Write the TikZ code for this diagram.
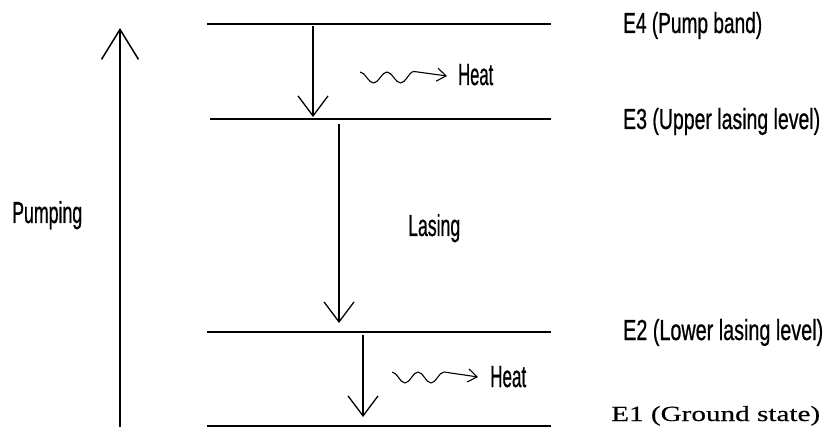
\documentclass[tikz,border=0pt]{standalone}
\usepackage{graphicx}
\usepackage{fontspec}
\setmainfont{Liberation Sans}
\newfontfamily\lblsans[FakeBold=0.9]{Liberation Sans}
\newfontfamily\lblserif[FakeBold=0.4]{Liberation Serif}
\usetikzlibrary{arrows.meta}
\newcommand\fitlbl[3]{\resizebox{#1}{#2}{\lblsans #3}}
\begin{document}
\begin{tikzpicture}[x=1pt,y=-1pt,
  levelline/.style={line width=1.7pt},
  decayarrow/.style={line width=1.3pt,-{Straight Barb[length=20pt,width=30pt,line width=1.3pt]}},
  pumparrow/.style={line width=1.5pt,-{Straight Barb[length=30pt,width=37pt,line width=1.5pt]}},
  heatwave/.style={line width=1.1pt,-{Straight Barb[length=9pt,width=13pt,line width=1.1pt]}},
  lbl/.style={anchor=base west,inner sep=0pt}]
\useasboundingbox[fill=white] (0,0) rectangle (826,435);
% level lines
\coordinate (e4a) at (207,24);  \coordinate (e4b) at (551,24);
\coordinate (e3a) at (210,119); \coordinate (e3b) at (551,119);
\coordinate (e2a) at (207,332); \coordinate (e2b) at (551,332);
\coordinate (e1a) at (207,426); \coordinate (e1b) at (551,426);
\draw[levelline] (e4a) -- (e4b);
\draw[levelline] (e3a) -- (e3b);
\draw[levelline] (e2a) -- (e2b);
\draw[levelline] (e1a) -- (e1b);
% pumping arrow
\coordinate (pb) at (120,427); \coordinate (pt) at (120,28);
\draw[pumparrow] (pb) -- (pt);
% decay arrows
\coordinate (d1s) at (313,26);  \coordinate (d1e) at (313,117);
\coordinate (d2s) at (339,124); \coordinate (d2e) at (339,323);
\coordinate (d3s) at (363,335); \coordinate (d3e) at (363,417);
\draw[decayarrow] (d1s) -- (d1e);
\draw[decayarrow] (d2s) -- (d2e);
\draw[decayarrow] (d3s) -- (d3e);
% heat waves
\coordinate (h1s) at (360,72); \coordinate (h1e) at (447,76);
\coordinate (h2s) at (392,372); \coordinate (h2e) at (478,377);
\draw[heatwave] (h1s) cos ++(6.75,5.5) sin ++(6.75,5.5) cos ++(6.75,-5.5) sin ++(6.75,-5.5)
  cos ++(6.75,5.5) sin ++(6.75,5.5) cos ++(6.75,-5.5) sin ++(6.75,-6) -- (h1e);
\draw[heatwave] (h2s) cos ++(6.5,5.5) sin ++(6.5,5.5) cos ++(6.5,-5.5) sin ++(6.5,-5.5)
  cos ++(6.5,5.5) sin ++(6.5,5.5) cos ++(6.5,-5.5) sin ++(6.5,-5.5) -- (h2e);
% labels
\node[lbl] (heat1) at (458,85) {\fitlbl{35pt}{21pt}{Heat}};
\node[lbl] (heat2) at (490,387) {\fitlbl{36pt}{21pt}{Heat}};
\node[lbl] (pump) at (12,223) {\fitlbl{70pt}{22pt}{Pumping}};
\node[lbl] (lasing) at (408,236) {\fitlbl{52pt}{22pt}{Lasing}};
\node[lbl] (l4) at (623,33) {\fitlbl{139pt}{21pt}{E4 (Pump band)}};
\node[lbl] (l3) at (623,129) {\fitlbl{197pt}{21pt}{E3 (Upper lasing level)}};
\node[lbl] (l2) at (623,340) {\fitlbl{200pt}{21pt}{E2 (Lower lasing level)}};
\node[lbl] (l1) at (611,421) {\resizebox{209pt}{15pt}{\lblserif E1 (Ground state)}};
\end{tikzpicture}
\end{document}
